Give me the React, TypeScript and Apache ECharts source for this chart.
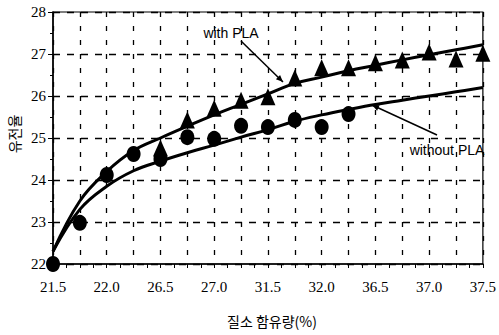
import React, { useEffect, useRef } from "react";
import * as echarts from "echarts";

// x tick labels (one per major tick)
const xTickLabels = ["21.5", "22.0", "26.5", "27.0", "31.5", "32.0", "36.5", "37.0", "37.5"];

// measured points, x given in tick-index units (0 = first label)
const withoutPLA_x = [0, 0.5, 1, 1.5, 2, 2.5, 3, 3.5, 4, 4.5, 5, 5.5];
const withoutPLA_y = [22.0, 22.98, 24.12, 24.62, 24.5, 25.02, 24.98, 25.29, 25.26, 25.43, 25.26, 25.57];

const withPLA_x = [2, 2.5, 3, 3.5, 4, 4.5, 5, 5.5, 6, 6.5, 7, 7.5, 8];
const withPLA_y = [24.76, 25.43, 25.71, 25.9, 25.98, 26.43, 26.67, 26.67, 26.79, 26.86, 27.05, 26.88, 27.02];

// fitted curves
const curve_x = [0, 0.5, 1, 1.5, 2, 2.5, 3, 3.5, 4, 4.5, 5, 5.5, 6, 6.5, 7, 7.5, 8];
const withPLAFit_y = [22.3, 23.5, 24.2, 24.7, 25.0, 25.28, 25.55, 25.8, 26.05, 26.3, 26.45, 26.6, 26.73, 26.86, 26.98, 27.1, 27.22];
const withoutPLAFit_y = [22.3, 23.3, 23.85, 24.22, 24.45, 24.65, 24.83, 25.02, 25.2, 25.4, 25.55, 25.68, 25.8, 25.9, 26.0, 26.1, 26.2];

const zip = (xs: number[], ys: number[]) => xs.map((x, i) => [x, ys[i]]);

function arrowHead(x1: number, y1: number, x2: number, y2: number, len = 7, half = 3) {
  const dx = x2 - x1;
  const dy = y2 - y1;
  const L = Math.hypot(dx, dy);
  const ux = dx / L;
  const uy = dy / L;
  const nx = -uy;
  const ny = ux;
  const bx = x2 - ux * len;
  const by = y2 - uy * len;
  return [
    [x2, y2],
    [bx + nx * half, by + ny * half],
    [bx - nx * half, by - ny * half],
  ];
}

export default function App() {
  const ref = useRef<HTMLDivElement>(null);
  useEffect(() => {
    if (!ref.current) return;
    const chart = echarts.init(ref.current, undefined, { renderer: "svg" });
    const serif = "Liberation Serif";
    const a1 = { x1: 241, y1: 41, x2: 283, y2: 82 };
    const a2 = { x1: 437, y1: 135, x2: 372, y2: 105 };
    chart.setOption({
      animation: false,
      backgroundColor: "#fff",
      grid: {
        left: 53,
        right: 12,
        top: 12,
        bottom: 71,
        show: true,
        borderColor: "#000",
        borderWidth: 1.2,
      },
      xAxis: {
        type: "value",
        min: 0,
        max: 8,
        interval: 0.5,
        axisLine: { show: true, onZero: false, lineStyle: { color: "#000", width: 1.5 } },
        axisTick: { show: true, length: 4, lineStyle: { color: "#000" } },
        minorTick: { show: true, splitNumber: 2, length: 4, lineStyle: { color: "#000" } },
        splitLine: { show: true, lineStyle: { color: "#000", width: 1.3, type: [5, 9], opacity: 1 } },
        axisLabel: {
          margin: 15,
          color: "#000",
          fontFamily: serif,
          fontSize: 15,
          formatter: (v: number) => {
            const i = Math.round(v * 2) / 2;
            return Number.isInteger(i) ? xTickLabels[i] : "";
          },
        },
      },
      yAxis: {
        type: "value",
        min: 22,
        max: 28,
        interval: 1,
        axisLine: { show: true, lineStyle: { color: "#000", width: 1.5 } },
        axisTick: { show: true, length: 5, lineStyle: { color: "#000" } },
        minorTick: { show: true, splitNumber: 2, length: 3, lineStyle: { color: "#000" } },
        splitLine: { show: true, lineStyle: { color: "#000", width: 1.3, type: [7, 7], opacity: 1 } },
        axisLabel: { margin: 7, color: "#000", fontFamily: serif, fontSize: 15 },
      },
      series: [
        {
          type: "line",
          data: zip(curve_x, withPLAFit_y),
          smooth: 0.4,
          symbol: "none",
          lineStyle: { color: "#000", width: 3, opacity: 1 },
          z: 3,
        },
        {
          type: "line",
          data: zip(curve_x, withoutPLAFit_y),
          smooth: 0.4,
          symbol: "none",
          lineStyle: { color: "#000", width: 3, opacity: 1 },
          z: 3,
        },
        {
          type: "scatter",
          data: zip(withPLA_x, withPLA_y),
          symbol: "triangle",
          symbolSize: [15, 17],
          itemStyle: { color: "#000", opacity: 1 },
          z: 4,
        },
        {
          type: "scatter",
          data: zip(withoutPLA_x, withoutPLA_y),
          symbol: "circle",
          symbolSize: [14, 16],
          itemStyle: { color: "#000", opacity: 1 },
          z: 4,
        },
      ],
      graphic: [
        {
          type: "text",
          x: 14,
          y: 134,
          rotation: Math.PI / 2,
          style: {
            text: "유전율",
            font: '14px "Noto Sans CJK KR"',
            fill: "#000",
            align: "center",
            verticalAlign: "middle",
          },
        },
        {
          type: "text",
          x: 272,
          y: 321,
          style: {
            text: "질소 함유량(%)",
            font: '14px "Noto Sans CJK KR"',
            fill: "#000",
            align: "center",
            verticalAlign: "middle",
          },
        },
        {
          type: "text",
          x: 231,
          y: 33,
          z: 10,
          style: {
            text: "with PLA",
            font: '14px "Liberation Sans"',
            fill: "#000",
            align: "center",
            verticalAlign: "middle",
          },
        },
        {
          type: "text",
          x: 447,
          y: 150,
          z: 10,
          style: {
            text: "without PLA",
            font: '14px "Liberation Sans"',
            fill: "#000",
            align: "center",
            verticalAlign: "middle",
          },
        },
        {
          type: "line",
          z: 10,
          shape: a1,
          style: { stroke: "#000", lineWidth: 1.5 },
        },
        {
          type: "polygon",
          z: 10,
          shape: { points: arrowHead(a1.x1, a1.y1, a1.x2, a1.y2) },
          style: { fill: "#000" },
        },
        {
          type: "line",
          z: 10,
          shape: a2,
          style: { stroke: "#000", lineWidth: 1.5 },
        },
        {
          type: "polygon",
          z: 10,
          shape: { points: arrowHead(a2.x1, a2.y1, a2.x2, a2.y2) },
          style: { fill: "#000" },
        },
      ],
    });
    return () => chart.dispose();
  }, []);
  return (
    <div
      ref={ref}
      style={{ position: "fixed", left: 0, top: 0, width: 499, height: 335, background: "#fff" }}
    />
  );
}
